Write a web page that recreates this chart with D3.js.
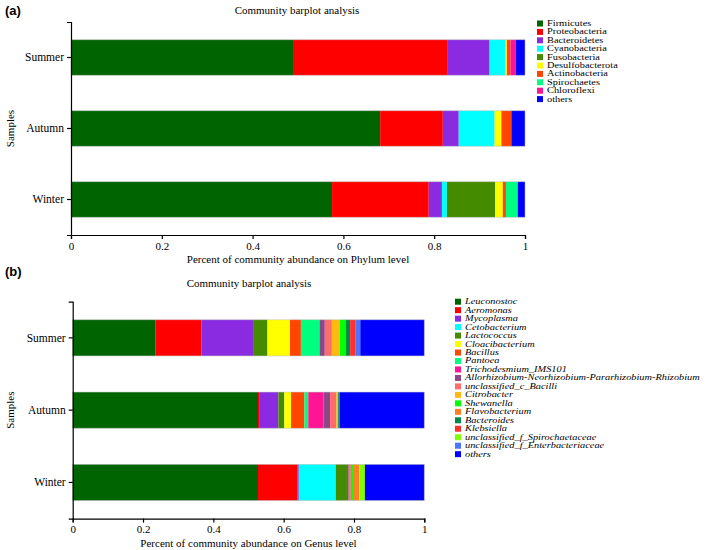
<!DOCTYPE html>
<html><head><meta charset="utf-8">
<script src="https://cdn.jsdelivr.net/npm/d3@7"></script>
<style>body{margin:0;background:#fff}svg{display:block}</style>
</head><body>
<svg id="c" width="709" height="550"></svg>
<script>
const samples = ["Summer", "Autumn", "Winter"];
const xTicks = [0, 0.2, 0.4, 0.6, 0.8, 1];

const phyla = ["Firmicutes","Proteobacteria","Bacteroidetes","Cyanobacteria","Fusobacteria","Desulfobacterota","Actinobacteria","Spirochaetes","Chloroflexi","others"];
const phylaColors = ["#006400","#FF0000","#8A2BE2","#00FFFF","#458B00","#FFFF00","#FF4500","#00FF7F","#FF1493","#0000FF"];
const phylumSummer = [0.489,0.341,0.092,0.035,0,0.003,0.008,0,0.012,0.020];
const phylumAutumn = [0.681,0.138,0.035,0.079,0,0.015,0.022,0,0,0.030];
const phylumWinter = [0.575,0.213,0.029,0.011,0.106,0.017,0.007,0.026,0,0.016];

const genera = ["Leuconostoc","Aeromonas","Mycoplasma","Cetobacterium","Lactococcus","Cloacibacterium","Bacillus","Pantoea","Trichodesmium_IMS101","Allorhizobium-Neorhizobium-Pararhizobium-Rhizobium","unclassified_c_Bacilli","Citrobacter","Shewanella","Flavobacterium","Bacteroides","Klebsiella","unclassified_f_Spirochaetaceae","unclassified_f_Enterbacteriaceae","others"];
const generaColors = ["#006400","#FF0000","#8A2BE2","#00FFFF","#458B00","#FFFF00","#FF4500","#00FF7F","#FF1493","#8B4789","#FF6A6A","#FFB90F","#00FF00","#FF7F24","#008B45","#FF3030","#7FFF00","#4876FF","#0000FF"];
const genusSummer = [0.236,0.130,0.147,0,0.041,0.064,0.031,0.053,0,0.015,0.020,0.023,0.016,0,0.013,0.016,0,0.013,0.182];
const genusAutumn = [0.527,0.003,0.055,0,0.017,0.019,0.038,0.011,0.043,0.019,0.018,0.005,0,0,0.004,0,0,0,0.241];
const genusWinter = [0.527,0.113,0.003,0.105,0.032,0,0,0,0,0.005,0.006,0,0.006,0.018,0,0,0.016,0,0.169];

const svg = d3.select("#c");
const serif = "'Liberation Serif','Times New Roman',serif";

function panel(o) {
  const g = svg.append("g");
  const x = d3.scaleLinear().domain([0,1]).range([o.x0, o.x1]);
  const y = d3.scaleBand().domain(samples).range([o.y0, o.y1]).paddingInner(0.5).paddingOuter(0.25);
  const rows = samples.map((s,i)=>{const r={sample:s}; o.names.forEach((n,j)=>r[n]=o.values[i][j]); return r;});
  const stack = d3.stack().keys(o.names)(rows);
  const color = d3.scaleOrdinal().domain(o.names).range(o.colors);
  g.selectAll("g.layer").data(stack).join("g").attr("fill", d=>color(d.key))
    .selectAll("rect").data(d=>d).join("rect")
    .attr("x", d=>x(d[0])).attr("width", d=>Math.max(0, x(d[1])-x(d[0])))
    .attr("y", d=>y(d.data.sample)).attr("height", y.bandwidth());
  g.selectAll("rect.ol").data(samples).join("rect").attr("class","ol")
    .attr("x", x(0)).attr("width", x(1)-x(0)).attr("y", d=>y(d)).attr("height", y.bandwidth())
    .attr("fill","none").attr("stroke","#bbb").attr("stroke-opacity",0.6).attr("stroke-width",0.8);
  const ax = g.append("g").attr("transform",`translate(0,${o.y1})`)
    .call(d3.axisBottom(x).tickValues(xTicks).tickFormat(d=>d===0?"0":d===1?"1":d3.format(".1f")(d)).tickSize(4).tickSizeOuter(4));
  const ay = g.append("g").attr("transform",`translate(${o.x0},0)`)
    .call(d3.axisLeft(y).tickSize(4).tickSizeOuter(4));
  [ax, ay].forEach(a=>{
    a.selectAll("path,line").attr("stroke","#000").attr("stroke-width",1.2);
    a.selectAll("text").attr("font-family",serif).attr("font-size","11px").attr("fill","#000");
  });
  ay.selectAll("text").attr("font-size","11.5px");
  g.append("text").attr("x",(o.x0+o.x1)/2).attr("y",o.y1+28).attr("text-anchor","middle")
    .attr("font-family",serif).attr("font-size","11px").text(o.xlabel);
  g.append("text").attr("transform",`translate(14,${(o.y0+o.y1)/2}) rotate(-90)`).attr("text-anchor","middle")
    .attr("font-family",serif).attr("font-size","11px").text("Samples");
  g.append("text").attr("x",o.titleX).attr("y",o.titleY).attr("text-anchor","middle")
    .attr("font-family",serif).attr("font-size","11px").text("Community barplot analysis");
  g.append("text").attr("x",5).attr("y",o.tagY).attr("font-family","'Liberation Sans',Arial,sans-serif")
    .attr("font-weight","bold").attr("font-size","13px").text(o.tag);
  const lg = g.append("g");
  o.names.forEach((n,i)=>{
    const yy = o.ly + i*o.lstep;
    lg.append("rect").attr("x",o.lx).attr("y",yy-3).attr("width",6).attr("height",6).attr("fill",o.colors[i]);
    lg.append("text").attr("transform",`translate(${o.lx+10},${yy}) scale(1.4,1)`).attr("dy","0.33em")
      .attr("font-family",serif).attr("font-size","7.4px").attr("font-style",o.italic?"italic":"normal").text(n);
  });
}

panel({names:phyla, colors:phylaColors, values:[phylumSummer,phylumAutumn,phylumWinter],
  x0:71, x1:525, y0:22, y1:235, xlabel:"Percent of community abundance on Phylum level",
  titleX:297, titleY:14, tag:"(a)", tagY:15, lx:537, ly:23.5, lstep:8.4, italic:false});
panel({names:genera, colors:generaColors, values:[genusSummer,genusAutumn,genusWinter],
  x0:72.7, x1:424.3, y0:301.7, y1:518.6, xlabel:"Percent of community abundance on Genus level",
  titleX:249, titleY:287, tag:"(b)", tagY:276, lx:455, ly:301.7, lstep:8.47, italic:true});
</script>
</body></html>
